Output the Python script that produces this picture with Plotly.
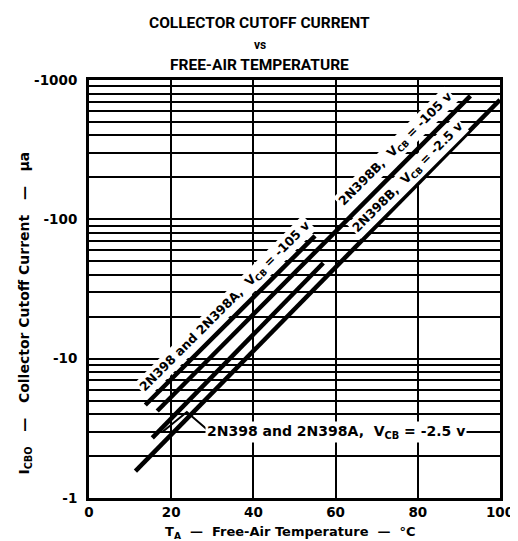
import plotly.graph_objects as go

# ---- data ----
temp_a105 = [13.7, 55.0]      # 2N398 and 2N398A, VCB = -105 v
icbo_a105 = [4.65, 76.0]
temp_b105 = [16.6, 92.8]      # 2N398B, VCB = -105 v
icbo_b105 = [4.21, 769.0]
temp_a25 = [15.4, 57.0]       # 2N398 and 2N398A, VCB = -2.5 v
icbo_a25 = [2.70, 48.6]
temp_b25 = [11.3, 100.0]      # 2N398B, VCB = -2.5 v
icbo_b25 = [1.56, 720.0]

x_ticks = [0, 20, 40, 60, 80, 100]
y_ticks = [1, 10, 100, 1000]
y_ticktext = ["-1", "-10", "-100", "-1000"]
y_minor = [m * d for d in (1, 10, 100) for m in range(2, 10)]


def f(size, family="DejaVu Sans"):
    return dict(family=family, size=size, color="black", weight="bold")


fig = go.Figure()
for xs, ys in [(temp_a105, icbo_a105), (temp_b105, icbo_b105),
               (temp_a25, icbo_a25), (temp_b25, icbo_b25)]:
    fig.add_trace(go.Scatter(x=xs, y=ys, mode="lines",
                             line=dict(color="black", width=4.5),
                             showlegend=False, hoverinfo="skip"))

# leader for the lower label
fig.add_trace(go.Scatter(x=[18.0, 23.8, 29.3], y=[3.0, 4.14, 3.0], mode="lines",
                         line=dict(color="black", width=2),
                         showlegend=False, hoverinfo="skip"))

annotations = [
    dict(text="COLLECTOR CUTOFF CURRENT", x=0.415, y=1.136, font=f(15.5, "Roboto")),
    dict(text="vs", x=0.415, y=1.0837, font=f(12, "Roboto")),
    dict(text="FREE-AIR TEMPERATURE", x=0.415, y=1.0359, font=f(15.5, "Roboto")),
    dict(text="T<sub>A</sub>  —  Free-Air Temperature  —  °C", x=0.49, y=-0.082, font=f(13)),
    dict(text="I<sub>CBO</sub>   —   Collector Cutoff Current   —   μa",
         x=-0.155, y=0.442, textangle=-90, font=f(14)),
]
for a in annotations:
    a.update(xref="paper", yref="paper", showarrow=False, xanchor="center", yanchor="middle")

# curve labels (y in log10 units, as plotly requires for log axes)
annotations += [
    dict(text="2N398 and 2N398A,  V<sub>CB</sub> = -105 v", x=33.2, y=1.372, textangle=-45,
         font=f(12.5)),
    dict(text="2N398B,  V<sub>CB</sub> = -105 v", x=74.6, y=2.50, textangle=-45, font=f(12.5)),
    dict(text="2N398B,  V<sub>CB</sub> = -2.5 v", x=77.6, y=2.30, textangle=-45, font=f(12.5)),
    dict(text="2N398 and 2N398A,  V<sub>CB</sub> = -2.5 v", x=60.2, y=0.477, font=f(14)),
]
for a in annotations[5:]:
    a.update(xref="x", yref="y", showarrow=False, bgcolor="white", borderpad=1)

fig.update_layout(
    width=518, height=541,
    margin=dict(l=81, r=21, t=72, b=51),
    paper_bgcolor="white", plot_bgcolor="white",
    annotations=annotations,
    xaxis=dict(range=[0, 100], tickvals=x_ticks, showgrid=True, gridcolor="black", gridwidth=2,
               zeroline=False, showline=True, mirror=True, linecolor="black", linewidth=3,
               ticks="", ticklabelstandoff=0, tickfont=f(13.5)),
    yaxis=dict(type="log", range=[0, 3], tickvals=y_ticks, ticktext=y_ticktext,
               showgrid=True, gridcolor="black", gridwidth=2,
               minor=dict(tickvals=y_minor, showgrid=True, gridcolor="black", gridwidth=2, ticks=""),
               zeroline=False, showline=True, mirror=True, linecolor="black", linewidth=3,
               ticks="outside", ticklen=6, tickcolor="rgba(0,0,0,0)", tickfont=f(13.5)),
)

fig.write_html("out.html")
